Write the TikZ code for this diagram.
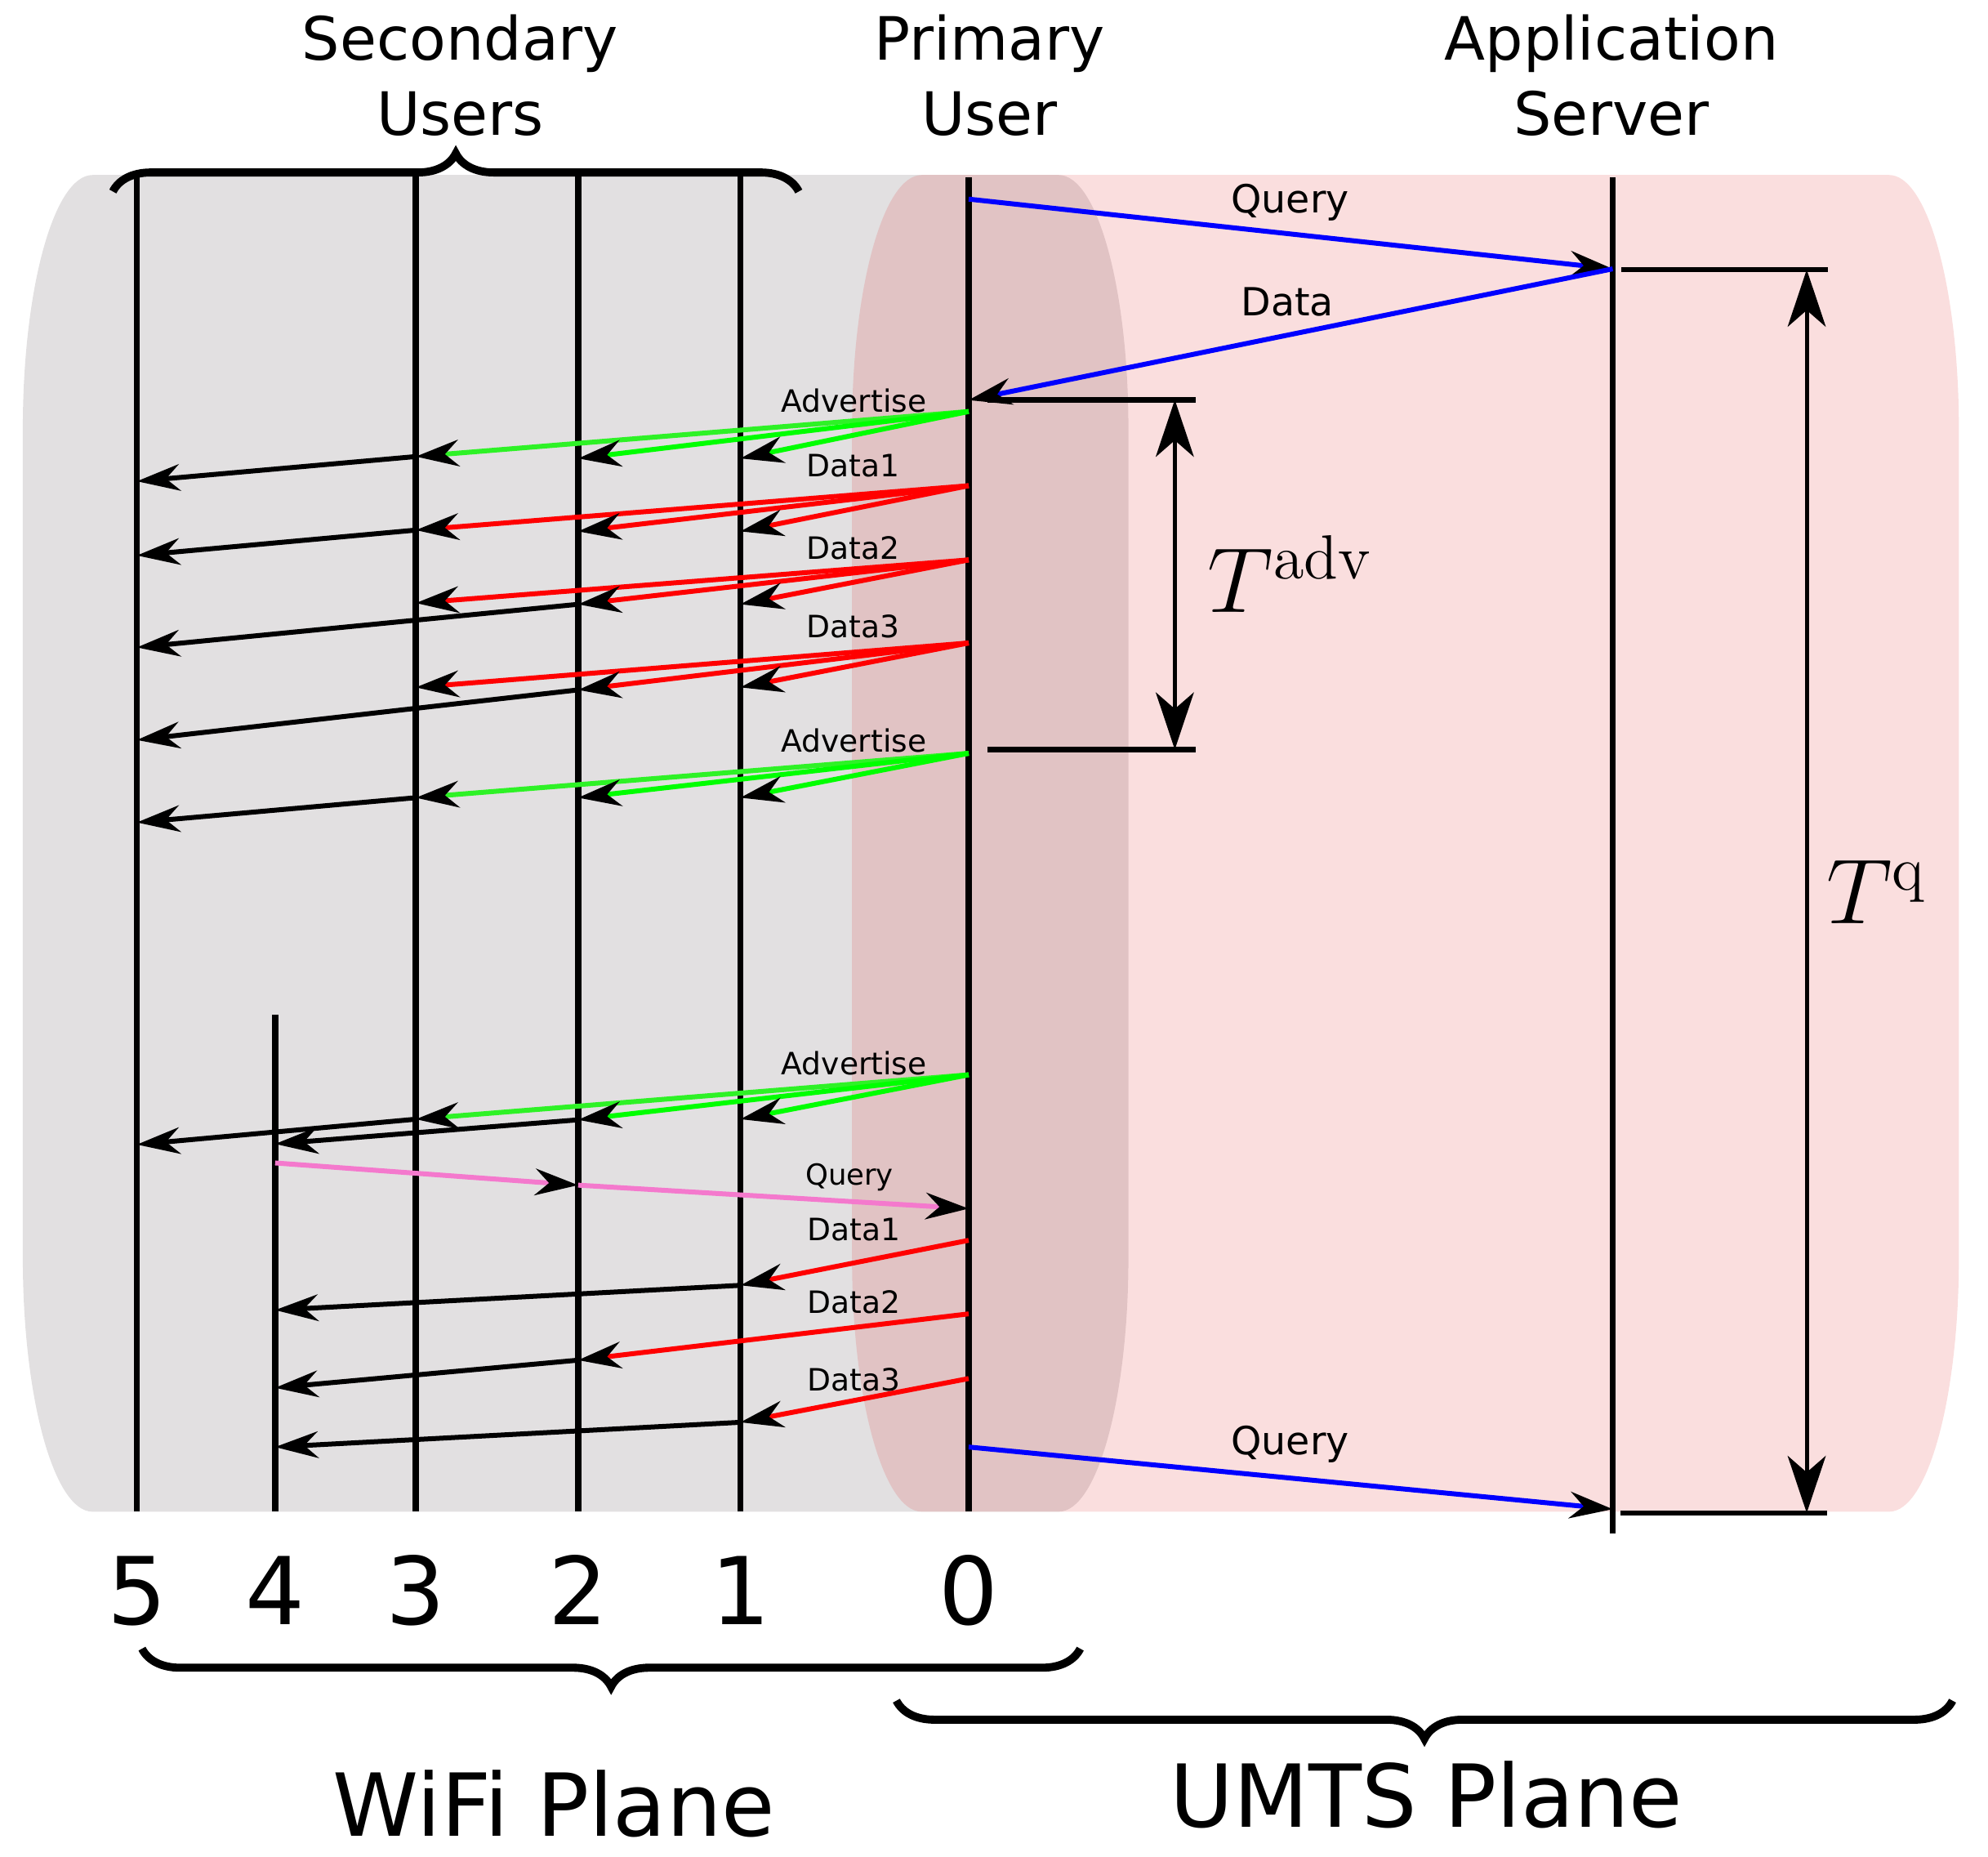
\documentclass[tikz,border=0pt]{standalone}
\usepackage{fontspec}
\newfontfamily\dejavu{DejaVu Sans}
\usetikzlibrary{arrows.meta,decorations.pathreplacing}

\definecolor{wifigray}{RGB}{226,224,225}
\definecolor{umtsred}{RGB}{222,35,35}
\definecolor{advgreen}{RGB}{0,255,0}
\definecolor{advlight}{RGB}{46,242,38}
\definecolor{qpink}{RGB}{244,121,205}

\tikzset{
  lifeline/.style={line width=1.4pt},
  msg/.style={line width=1.1pt,-{Stealth[length=3.4mm,width=2.1mm,inset=1.1mm,color=black]}},
  marker/.style={line width=1.2pt},
  span/.style={line width=0.9pt,{Stealth[length=4.5mm,width=3mm,inset=1.3mm]}-{Stealth[length=4.5mm,width=3mm,inset=1.3mm]}},
  grp/.style={line width=1.8pt,decorate,decoration={brace,amplitude=0.3cm}},
  head/.style={font=\dejavu\fontsize{13.4}{16.8}\selectfont,align=center,anchor=base,inner sep=0pt},
  tag/.style={font=\dejavu\fontsize{6.9}{8}\selectfont,anchor=base,inner sep=0pt},
  umtstag/.style={font=\dejavu\fontsize{8.7}{10}\selectfont,anchor=base,inner sep=0pt},
  idx/.style={font=\dejavu\fontsize{21}{25}\selectfont,anchor=base,inner sep=0pt},
  plane/.style={font=\dejavu\fontsize{19.5}{23}\selectfont,anchor=base,inner sep=0pt},
  period/.style={font=\fontsize{20}{24}\selectfont,anchor=base west,inner sep=0pt}
}

\begin{document}
\begin{tikzpicture}
	\useasboundingbox (0,0) rectangle (15.68,-14.64);
	% planes
	\fill[wifigray] (0.73,-1.38) -- (8.35,-1.38) arc[start angle=90,end angle=0,x radius=0.55,y radius=2] -- (8.90,-9.92) arc[start angle=0,end angle=-90,x radius=0.55,y radius=2] -- (0.73,-11.92) arc[start angle=270,end angle=180,x radius=0.55,y radius=2] -- (0.18,-3.38) arc[start angle=180,end angle=90,x radius=0.55,y radius=2] -- cycle;
	\fill[umtsred,fill opacity=0.15] (7.27,-1.38) -- (14.90,-1.38) arc[start angle=90,end angle=0,x radius=0.55,y radius=2] -- (15.45,-9.92) arc[start angle=0,end angle=-90,x radius=0.55,y radius=2] -- (7.27,-11.92) arc[start angle=270,end angle=180,x radius=0.55,y radius=2] -- (6.72,-3.38) arc[start angle=180,end angle=90,x radius=0.55,y radius=2] -- cycle;

	% lifelines
	\coordinate (u5top) at (1.08,-1.39);   \coordinate (u5bot) at (1.08,-11.92);
	\coordinate (u4top) at (2.17,-8.00);   \coordinate (u4bot) at (2.17,-11.92);
	\coordinate (u3top) at (3.28,-1.39);   \coordinate (u3bot) at (3.28,-11.92);
	\coordinate (u2top) at (4.56,-1.39);   \coordinate (u2bot) at (4.56,-11.92);
	\coordinate (u1top) at (5.84,-1.39);   \coordinate (u1bot) at (5.84,-11.92);
	\coordinate (u0top) at (7.64,-1.40);   \coordinate (u0bot) at (7.64,-11.92);
	\coordinate (srvtop) at (12.72,-1.40); \coordinate (srvbot) at (12.72,-12.09);
	\draw[lifeline] (u5top) -- (u5bot);
	\draw[lifeline] (u4top) -- (u4bot);
	\draw[lifeline] (u3top) -- (u3bot);
	\draw[lifeline] (u2top) -- (u2bot);
	\draw[lifeline] (u1top) -- (u1bot);
	\draw[lifeline] (u0top) -- (u0bot);
	\draw[lifeline] (srvtop) -- (srvbot);

	% periods
	\coordinate (ta1) at (7.79,-3.152); \coordinate (ta2) at (9.43,-3.152);
	\coordinate (ta3) at (7.79,-5.91);  \coordinate (ta4) at (9.43,-5.91);
	\coordinate (ta5) at (9.266,-3.152); \coordinate (ta6) at (9.266,-5.91);
	\draw[marker] (ta1) -- (ta2);
	\draw[marker] (ta3) -- (ta4);
	\draw[span] (ta5) -- (ta6);
	\node[period] (tadv) at (9.52,-4.83) {$T^{\mathrm{adv}}$};
	\coordinate (tq1) at (12.79,-2.126); \coordinate (tq2) at (14.42,-2.126);
	\coordinate (tq3) at (12.78,-11.93); \coordinate (tq4) at (14.41,-11.93);
	\coordinate (tq5) at (14.25,-2.126); \coordinate (tq6) at (14.25,-11.93);
	\draw[marker] (tq1) -- (tq2);
	\draw[marker] (tq3) -- (tq4);
	\draw[span] (tq5) -- (tq6);
	\node[period] (tq) at (14.40,-7.28) {$T^{\mathrm{q}}$};

	% umts exchange
	\coordinate (q1a) at (7.64,-1.57);  \coordinate (q1b) at (12.72,-2.12);
	\coordinate (d1b) at (7.64,-3.155);
	\draw[msg,blue] (q1a) -- (q1b);
	\draw[msg,blue] (q1b) -- (d1b);
	\coordinate (q2a) at (7.64,-11.41); \coordinate (q2b) at (12.72,-11.90);
	\draw[msg,blue] (q2a) -- (q2b);

	% first advertise
	\coordinate (a1) at (7.64,-3.245);
	\coordinate (a1u3) at (3.28,-3.60); \coordinate (a1u2) at (4.56,-3.615); \coordinate (a1u1) at (5.84,-3.615);
	\coordinate (a1u5) at (1.08,-3.795);
	\draw[msg,advlight] (a1) -- (a1u3);
	\draw[msg,advgreen] (a1) -- (a1u2);
	\draw[msg,advgreen] (a1) -- (a1u1);
	\draw[msg] (a1u3) -- (a1u5);
	% data bursts
	\coordinate (da1) at (7.64,-3.83);
	\coordinate (da1u3) at (3.28,-4.18); \coordinate (da1u2) at (4.56,-4.19); \coordinate (da1u1) at (5.84,-4.19);
	\coordinate (da1u5) at (1.08,-4.38);
	\draw[msg,red] (da1) -- (da1u3);
	\draw[msg,red] (da1) -- (da1u2);
	\draw[msg,red] (da1) -- (da1u1);
	\draw[msg] (da1u3) -- (da1u5);
	\coordinate (db1) at (7.64,-4.415);
	\coordinate (db1u3) at (3.28,-4.755); \coordinate (db1u2) at (4.56,-4.765); \coordinate (db1u1) at (5.84,-4.765);
	\coordinate (db1u5) at (1.08,-5.105);
	\draw[msg,red] (db1) -- (db1u3);
	\draw[msg,red] (db1) -- (db1u2);
	\draw[msg,red] (db1) -- (db1u1);
	\draw[msg] (db1u2) -- (db1u5);
	\coordinate (dc1) at (7.64,-5.07);
	\coordinate (dc1u3) at (3.28,-5.42); \coordinate (dc1u2) at (4.56,-5.44); \coordinate (dc1u1) at (5.84,-5.42);
	\coordinate (dc1u5) at (1.08,-5.835);
	\draw[msg,red] (dc1) -- (dc1u3);
	\draw[msg,red] (dc1) -- (dc1u2);
	\draw[msg,red] (dc1) -- (dc1u1);
	\draw[msg] (dc1u2) -- (dc1u5);
	% second advertise
	\coordinate (a2) at (7.64,-5.94);
	\coordinate (a2u3) at (3.28,-6.29); \coordinate (a2u2) at (4.56,-6.29); \coordinate (a2u1) at (5.84,-6.29);
	\coordinate (a2u5) at (1.08,-6.485);
	\draw[msg,advlight] (a2) -- (a2u3);
	\draw[msg,advgreen] (a2) -- (a2u2);
	\draw[msg,advgreen] (a2) -- (a2u1);
	\draw[msg] (a2u3) -- (a2u5);
	% third advertise, node 4 joins
	\coordinate (a3) at (7.64,-8.475);
	\coordinate (a3u3) at (3.28,-8.825); \coordinate (a3u2) at (4.56,-8.83); \coordinate (a3u1) at (5.84,-8.825);
	\coordinate (a3u5) at (1.08,-9.025); \coordinate (a3u4) at (2.17,-9.02);
	\draw[msg,advlight] (a3) -- (a3u3);
	\draw[msg,advgreen] (a3) -- (a3u2);
	\draw[msg,advgreen] (a3) -- (a3u1);
	\draw[msg] (a3u3) -- (a3u5);
	\draw[msg] (a3u2) -- (a3u4);
	\coordinate (pq4) at (2.17,-9.17); \coordinate (pq2) at (4.56,-9.345); \coordinate (pq0) at (7.64,-9.53);
	\draw[msg,qpink] (pq4) -- (pq2);
	\draw[msg,qpink] (pq2) -- (pq0);
	\coordinate (de1) at (7.64,-9.78);  \coordinate (de1u1) at (5.84,-10.135); \coordinate (de1u4) at (2.17,-10.33);
	\coordinate (df1) at (7.64,-10.36); \coordinate (df1u2) at (4.56,-10.725); \coordinate (df1u4) at (2.17,-10.943);
	\coordinate (dg1) at (7.64,-10.87); \coordinate (dg1u1) at (5.84,-11.215); \coordinate (dg1u4) at (2.17,-11.41);
	\draw[msg,red] (de1) -- (de1u1);
	\draw[msg] (de1u1) -- (de1u4);
	\draw[msg,red] (df1) -- (df1u2);
	\draw[msg] (df1u2) -- (df1u4);
	\draw[msg,red] (dg1) -- (dg1u1);
	\draw[msg] (dg1u1) -- (dg1u4);

	% labels
	\node[umtstag] (lQuery1) at (10.175,-1.68) {Query};
	\node[umtstag] (lData) at (10.155,-2.493) {Data};
	\node[umtstag] (lQuery3) at (10.175,-11.47) {Query};
	\node[tag] (lAdv1) at (6.735,-3.247) {Advertise};
	\node[tag] (lData1) at (6.73,-3.76) {Data1};
	\node[tag] (lData2) at (6.73,-4.41) {Data2};
	\node[tag] (lData3) at (6.73,-5.03) {Data3};
	\node[tag] (lAdv2) at (6.735,-5.93) {Advertise};
	\node[tag] (lAdv3) at (6.737,-8.476) {Advertise};
	\node[tag,font=\dejavu\fontsize{6.5}{8}\selectfont] (lQuery2) at (6.70,-9.346) {Query};
	\node[tag] (lData1b) at (6.733,-9.779) {Data1};
	\node[tag] (lData2b) at (6.733,-10.357) {Data2};
	\node[tag] (lData3b) at (6.733,-10.97) {Data3};

	\node[head] (hSec) at (3.63,-1.065) {Secondary\\Users};
	\node[head] (hPri) at (7.805,-1.065) {Primary\\User};
	\node[head] (hSrv) at (12.71,-1.065) {Application\\Server};
	\node[idx] (n5) at (1.08,-12.81) {5};
	\node[idx] (n4) at (2.17,-12.81) {4};
	\node[idx] (n3) at (3.28,-12.81) {3};
	\node[idx] (n2) at (4.56,-12.81) {2};
	\node[idx] (n1) at (5.84,-12.81) {1};
	\node[idx] (n0) at (7.64,-12.81) {0};
	\node[plane] (wifi) at (4.37,-14.48) {WiFi Plane};
	\node[plane] (umts) at (11.25,-14.41) {UMTS Plane};

	% braces
	\coordinate (bs1) at (0.89,-1.51); \coordinate (bs2) at (6.30,-1.51);
	\coordinate (bw1) at (8.52,-13.00); \coordinate (bw2) at (1.12,-13.00);
	\coordinate (bu1) at (15.40,-13.41); \coordinate (bu2) at (7.07,-13.41);
	\draw[grp] (bs1) -- (bs2);
	\draw[grp] (bw1) -- (bw2);
	\draw[grp] (bu1) -- (bu2);
\end{tikzpicture}
\end{document}
